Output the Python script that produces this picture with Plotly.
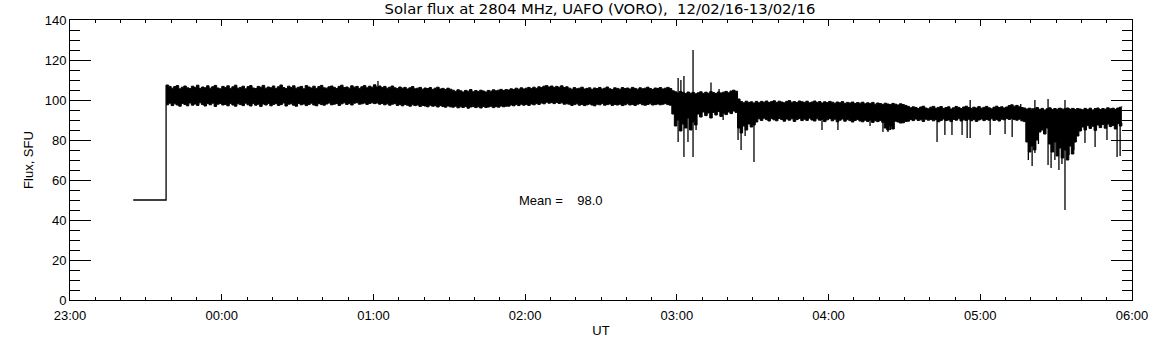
import pandas as pd
import plotly.graph_objects as go

# ---------------- data (minutes after 2016-02-12 23:00 UT, flux in SFU) ----------------
BASE = "2016-02-12 23:00"

# pre-observation constant level
step_minutes = [25, 38, 38]
step_values = [50, 50, 107.5]

# upper / lower envelope of the 1-s flux record, one value per minute (23:38 ... 05:56)
band_minutes = list(range(38, 417))
band_high = [
    107.5, 106.8, 105.9, 106.7, 107.2, 105.6, 106.4, 107, 106.1, 105.7, 106.9, 106.3, 107.4, 105.8, 106.5, 106.1, 107.1, 105.9, 106.6, 107.3, 106, 105.6, 106.8,
    106.2, 107.1, 105.8, 106.6, 107.4, 105.9, 106.3, 106.9, 105.6, 106.7, 107.2, 106, 105.7, 106.8, 106.4, 107.3, 105.9, 106.5, 106.1, 107,
    105.8, 106.6, 107.5, 106.2, 105.7, 106.9, 106.3, 107.1, 105.9, 106.4, 106.8, 105.6, 107.2, 106.5, 106, 106.9, 105.8, 106.7, 107.3, 106.1,
    105.9, 106.6, 107, 106.3, 105.7, 106.8, 107.4, 106.2, 106.5, 105.9, 107.1, 106.4, 106.8, 105.8, 106.6, 107.2, 106.1, 106.9, 106.4, 107.6,
    106.5, 107, 106.2, 106.8, 105.9, 106.4, 107, 106.1, 105.7, 106.5, 105.9, 106.3, 105.5, 106.1, 106.7, 105.6, 105.9, 106.3, 105.4, 106,
    105.7, 106.2, 105.3, 105.9, 106.4, 105.5, 105.8, 105.2, 105.9, 105.4,
    104.9, 104.3, 105.1, 104.6, 104, 104.8, 104.4, 105.2, 104.1, 104.7, 104.3, 104.9, 104.5, 104, 104.8, 104.4, 105.1, 104.6, 104.9, 105.3, 104.7, 105.2,
    105, 105.6, 105.2, 105.9, 105.4, 106.1, 105.5, 105.9, 106.3, 105.7, 106.4, 105.8, 106.6, 106.2, 106.9, 107.2, 106.5, 107, 106.3, 106.8, 106.4, 107.1, 106.2, 106.6,
    105.9, 105.4, 106.2, 105.6, 105.9, 106.4, 105.5, 105.8, 106.1, 105.3, 106, 105.7, 106.3, 105.5, 105.9, 106.5, 105.6, 105.2, 106.1, 105.8,
    105.4, 106.2, 105.7, 106, 105.5, 106.3, 105.8, 105.4, 106.1, 105.6, 105.9, 106.4, 105.7, 105.3, 106, 105.8, 106.2, 105.5, 105.9, 106.3, 105.7,
    104.6, 104.1, 103.5, 104.3, 103.7, 103.2, 104, 103.4, 103.8, 103.1,
    103.6, 104.1, 103.3, 103.9, 103.4, 104.2, 103.7, 103.2, 104, 103.5, 103.9, 104.3, 103.6, 104.5, 104.9, 104.4,
    100.5, 99.2, 98.6, 99.4, 98.8, 99.1, 98.5, 99.3,
    98.6, 99.3, 98.9, 99.5, 98.7, 99.2, 99.6, 98.8, 99.4, 99, 98.6, 99.3, 99.7, 98.9, 99.2, 98.7, 99.5, 99.1, 98.8, 99.4,
    98.6, 99, 99.5, 98.8, 99.2, 98.5, 99.1, 98.7, 99.3, 98.9, 98.4, 99, 98.6, 99.2, 98.3, 98.8, 98.5, 99, 98.2, 98.7,
    98.4, 98.9, 98.1, 98.6, 98.3, 98.8, 97.9, 98.5, 98.2, 97.8, 98.4, 98, 97.7, 98.3, 97.9, 97.5, 98.1, 97.7, 97.3,
    96.8, 96.1, 96.6, 96.3, 95.7, 96.5, 96.9, 96, 95.6, 96.4, 96.8, 95.9, 96.3, 96.7, 95.8, 96.2, 96.6, 95.5, 96.1, 96.8,
    96.3, 95.7, 96.5, 96.9, 96.2, 95.8, 96.4, 96, 96.7, 95.9, 96.3, 96.8, 96.1, 95.6, 96.4, 96.9, 96.2, 96.6, 96, 96.5,
    97.2, 97.6, 96.9, 97.3, 96.6, 96.2, 96,
    95.4, 95.9, 95.1, 95.7, 96.2, 95.3, 95.8, 95, 95.6, 96.1, 95.2, 95.7, 95.4, 95.9, 95.1, 95.6, 96, 95.3, 95.8, 95.2, 95.7,
    95.5, 95.1, 95.8, 95.3, 95.9, 95, 95.6, 96, 95.2, 95.7, 95.4, 96.1, 95.6, 95.9, 95.3, 96, 96.4, 96.8,
]
band_low = [
    97.6, 98.4, 97.2, 98.1, 97.5, 96.9, 98.3, 97.8, 97.1, 98.5, 97.4, 98, 97.3, 98.6, 97.7, 97, 98.2, 97.6, 98.4, 96.8, 97.9, 98.3, 97.5,
    97.8, 97.1, 98.3, 97.5, 96.9, 98.1, 97.7, 97.2, 98.4, 97.6, 97, 98.2, 97.4, 97.9, 96.8, 98, 97.5, 98.3, 97.1, 97.8,
    98.2, 97.3, 97.7, 98.5, 97, 97.9, 98.1, 97.4, 96.9, 98.3, 97.6, 98, 97.2, 97.8, 98.4, 97.5, 97.1, 98.2, 97.7, 97.4,
    98, 98.5, 97.6, 97.9, 98.3, 97.3, 98.1, 98.6, 97.8, 98.2, 97.5, 98.4, 98.7, 97.9, 98.1, 98.5, 97.8, 98.3, 98.6, 98.2,
    98.5, 97.9, 98.3, 97.6, 98.1, 97.4, 97.9, 98.2, 97.3, 97.7, 97.1, 97.8, 97.4, 96.9, 97.6, 97.2, 97.5, 96.8, 97.3, 97,
    96.6, 97.4, 96.9, 97.1, 96.5, 97.2, 96.8, 96.4, 97, 96.6,
    96.4, 96.9, 96.1, 96.6, 96.3, 96.8, 95.9, 96.5, 96.7, 96.2, 96.6, 96, 96.8, 96.3, 96.5, 96.9, 96.2, 96.7, 96.4, 97, 96.6, 96.9,
    96.9, 97.5, 97.1, 97.7, 97.2, 97.9, 97.4, 97.8, 97.3, 98, 97.6, 98.2, 97.8, 98.5, 98.1, 98.9, 98.4, 98.7, 98.2, 98.8, 98.3, 98.6, 97.9, 98.1,
    97.9, 97.3, 97.7, 98.1, 97.4, 97.8, 97.2, 97.6, 98, 97.5, 97.1, 97.9, 97.6, 98.2, 97.4, 97.7, 98, 97.3, 97.8, 97.5,
    97.9, 97.2, 97.6, 98.1, 97.5, 97.8, 97.3, 97.9, 98.2, 97.6, 97.4, 97.8, 98.1, 97.5, 97.7, 98, 97.6, 97.9, 98.2, 97.7, 97.4,
    93, 87, 90, 84.5, 88, 86, 91, 85, 89, 87.5,
    93, 91.5, 94, 92.2, 93.5, 91, 93.8, 92.5, 94.2, 91.8, 93.4, 92.7, 94, 93.2, 94.5, 93.8,
    86, 83.5, 87, 85, 88, 86.5, 87.5, 89,
    90.6, 89.8, 90.9, 90.2, 89.5, 90.7, 90.1, 89.6, 90.8, 90.3, 89.4, 90.5, 89.9, 90.6, 89.3, 90.2, 90.8, 89.7, 90.4, 89.8,
    90.9, 90, 89.5, 90.6, 89.9, 90.3, 89.2, 90.1, 90.7, 89.6, 90.4, 89.1, 89.9, 90.5, 89.4, 90.2, 89.7, 89, 89.8, 90.3,
    89.5, 89.1, 89.9, 89.3, 90, 88.8, 89.6, 89.2, 89.8, 88.9, 86, 85, 87, 85.5, 89.4, 89, 88.5, 88.6, 89.3,
    89.4, 90.2, 89.7, 90.5, 89.8, 90.1, 89.3, 90.4, 89.9, 90.3, 89.6, 90.2, 89.1, 89.8, 90.5, 89.7, 90, 89.2, 90.3, 89.9,
    90.6, 89.5, 90.1, 89.8, 90.4, 89.6, 90.2, 89.3, 90, 90.5, 89.7, 90.3, 89.9, 90.6, 89.8, 90.2, 89.5, 90.4, 90.1, 90.7,
    90.3, 90.8, 90.2, 89.9, 90.4, 89.6, 89.2,
    79, 74, 77, 75, 80, 84, 85, 83, 86, 78, 74, 79, 72, 76, 71, 75, 70, 77, 73, 79, 82,
    84.5, 86.5, 85, 87.2, 85.8, 86.9, 84.8, 87.5, 86.2, 87.8, 85.9, 88, 86.7, 87.3, 85.5, 88.2, 87, 88.6,
]

# individual excursions (minute, lowest value, highest value)
spike_minutes = [121.8, 240.5, 241.6, 242.8, 244.4, 246.4, 247.6, 253.5, 256.7, 258.3,
                 264.2, 265.4, 267.0, 270.5, 297.4, 303.7, 316.4, 321.5, 323.5, 324.5,
                 342.9, 346.0, 348.8, 352.8, 354.8, 356.0, 363.9, 369.8, 372.6, 376.0,
                 379.0, 380.5, 381.6, 383.0, 386.8, 388.0, 389.5, 391.1, 392.3, 393.5,
                 394.6, 395.1, 397.0, 401.4, 405.4, 410.1, 414.1, 415.3]
spike_low = [100, 79, 85, 71.5, 79, 71.5, 85, 91, 94, 90,
             80, 75, 82, 69, 85, 85, 87, 84, 84, 85,
             79, 82.5, 82.5, 82.5, 81, 81, 82.5, 83, 81.5, 92,
             70, 67, 73.5, 78, 67.5, 66, 70, 65, 68, 45,
             72, 72.5, 75, 78.5, 76.5, 80, 71.5, 72]
spike_high = [109.5, 111, 110, 112, 103, 125, 100, 108.7, 105.5, 103,
              100, 99, 98, 96, 98, 98, 98, 97, 95, 95,
              95, 95, 95, 96, 96, 100, 96, 96, 96, 98,
              96, 96, 100, 96, 100.5, 96, 96, 96, 96, 100,
              96, 96, 96, 96, 96, 96, 96, 96.5]

mean_label = "Mean =\u00a0\u00a0\u00a0\u00a098.0"
mean_label_minute = 194
mean_label_value = 50

assert len(band_minutes) == len(band_high) == len(band_low), (len(band_minutes), len(band_high), len(band_low))
assert len(spike_minutes) == len(spike_low) == len(spike_high)

# ---------------- build ----------------
base = pd.Timestamp(BASE)


def t(m):
    return base + pd.Timedelta(minutes=m)


band_t = [t(m) for m in band_minutes]
step_t = [t(m) for m in step_minutes]

spike_x, spike_y = [], []
for m, lo, hi in zip(spike_minutes, spike_low, spike_high):
    spike_x += [t(m), t(m), None]
    spike_y += [lo, hi, None]

BLACK = "#000000"
FONT = "Liberation Sans"
TITLE_FONT = "DejaVu Sans"

fig = go.Figure()
fig.add_trace(go.Scatter(x=step_t, y=step_values, mode="lines",
                         line=dict(color=BLACK, width=1.3), hoverinfo="skip"))
fig.add_trace(go.Scatter(x=band_t, y=band_low, mode="lines",
                         line=dict(color=BLACK, width=1, shape="hv"), hoverinfo="skip"))
fig.add_trace(go.Scatter(x=band_t, y=band_high, mode="lines", fill="tonexty",
                         fillcolor=BLACK,
                         line=dict(color=BLACK, width=1, shape="hv"), hoverinfo="skip"))
fig.add_trace(go.Scatter(x=spike_x, y=spike_y, mode="lines",
                         line=dict(color=BLACK, width=1.3), hoverinfo="skip"))

fig.add_annotation(x=t(mean_label_minute), y=mean_label_value, text=mean_label,
                   showarrow=False, font=dict(family=FONT, size=13, color=BLACK))

fig.update_layout(
    width=1152, height=345,
    margin=dict(l=70, r=20, t=20, b=45),
    paper_bgcolor="white", plot_bgcolor="white",
    showlegend=False,
    font=dict(family=FONT, size=13, color=BLACK),
    title=dict(text="Solar flux at 2804 MHz, UAFO (VORO),\u00a0\u00a012/02/16-13/02/16",
               x=0.5208, xanchor="center", y=0.974, yanchor="middle",
               font=dict(family=TITLE_FONT, size=14.8, color=BLACK)),
)

fig.update_xaxes(
    type="date", automargin=False,
    range=[t(0), t(420)],
    tickformat="%H:%M", dtick=3600000, tick0=t(0),
    ticks="inside", ticklen=6, tickwidth=1, tickcolor=BLACK,
    ticklabelstandoff=3,
    minor=dict(dtick=600000, ticks="inside", ticklen=3, tickcolor=BLACK, tickwidth=1),
    showline=True, linecolor=BLACK, linewidth=1, mirror="allticks",
    showgrid=False, zeroline=False,
    tickfont=dict(family=FONT, size=13, color=BLACK),
    title=dict(text="UT", font=dict(family=FONT, size=13, color=BLACK), standoff=4),
)
fig.update_yaxes(
    automargin=False,
    range=[0, 140], dtick=20, tick0=0,
    ticks="inside", ticklen=21, tickwidth=1, tickcolor=BLACK,
    minor=dict(dtick=5, ticks="inside", ticklen=10, tickcolor=BLACK, tickwidth=1),
    showline=True, linecolor=BLACK, linewidth=1, mirror="allticks",
    showgrid=False, zeroline=False,
    tickfont=dict(family=FONT, size=13, color=BLACK),
    title=dict(text="Flux, SFU", font=dict(family=FONT, size=13, color=BLACK), standoff=8),
)

fig.write_html("out.html",
               config={"displayModeBar": False},
               post_script="document.body.style.margin='0';document.body.style.padding='0';")
